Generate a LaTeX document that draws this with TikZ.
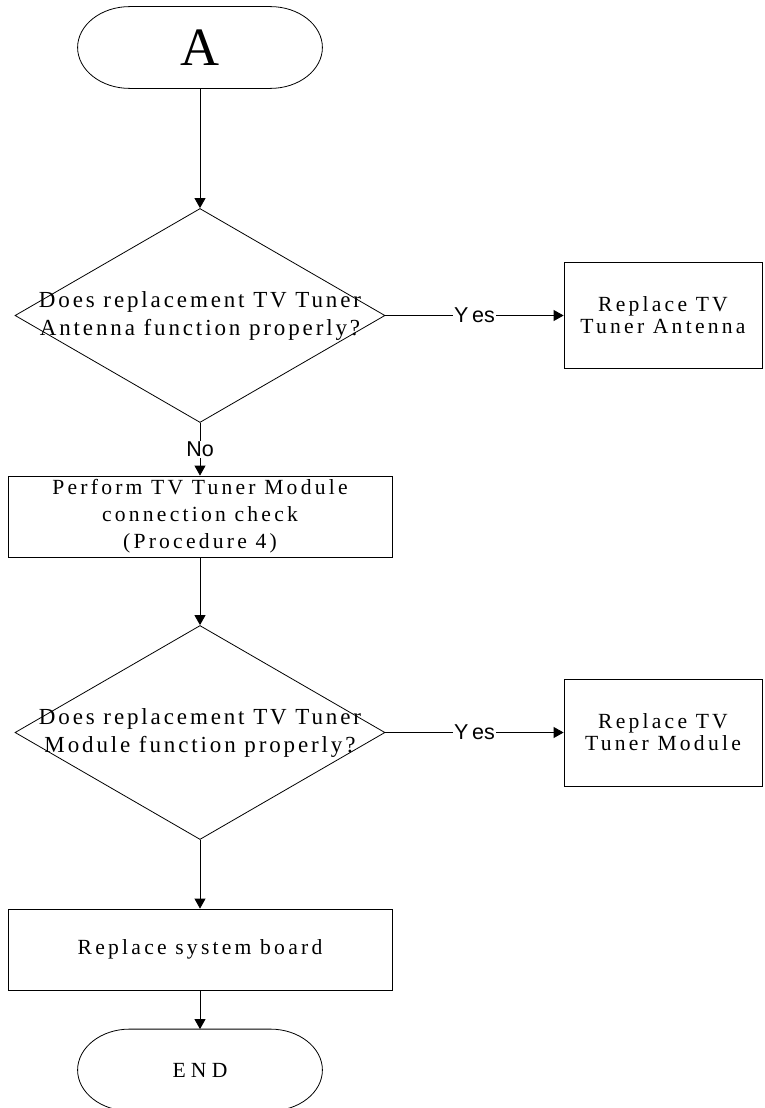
\documentclass[tikz,border=0pt]{standalone}
\usepackage{fontspec}
\setmainfont{Liberation Serif}
\newfontfamily\tracked[LetterSpace=12.5]{Liberation Serif}
\newfontfamily\trackedb[LetterSpace=15]{Liberation Serif}
\newfontfamily\trackedc[LetterSpace=24]{Liberation Serif}
\newfontfamily\sansf{Liberation Sans}
\usetikzlibrary{arrows.meta,shapes.geometric}
\newcommand\termpath[1]{%
  \draw ([xshift=52pt]#1.north west) -- ([xshift=-52pt]#1.north east)
    .. controls ([xshift=-23.3pt]#1.north east) and ([yshift=22.4pt]#1.east) .. (#1.east)
    .. controls ([yshift=-22.4pt]#1.east) and ([xshift=-23.3pt]#1.south east) .. ([xshift=-52pt]#1.south east)
    -- ([xshift=52pt]#1.south west)
    .. controls ([xshift=23.3pt]#1.south west) and ([yshift=-22.4pt]#1.west) .. (#1.west)
    .. controls ([yshift=22.4pt]#1.west) and ([xshift=23.3pt]#1.north west) .. ([xshift=52pt]#1.north west);}
\begin{document}
\begin{tikzpicture}[x=1pt,y=-1pt,line width=0.8pt,
  conn/.style={-{Triangle[length=10pt,width=11pt]}},
  term/.style={rectangle,inner sep=0pt,minimum width=244pt,minimum height=81pt},
  box/.style={draw,rectangle,inner sep=0pt,align=center,font=\trackedb\fontsize{21.6}{22}\selectfont},
  dia/.style={draw,diamond,inner sep=0pt,minimum width=370pt,minimum height=214pt},
  lbl/.style={fill=white,inner sep=1pt,font=\sansf\fontsize{21.5}{21.5}\selectfont}]
\useasboundingbox (0,0) rectangle (765,1108);
% start terminal
\node[term,font=\fontsize{54}{54}\selectfont] (A) at (200,47.5) {A};
\termpath{A}
% decision 1
\node[dia] (D1) at (200,315.5) {\makebox[0pt]{\tracked\fontsize{23}{28}\selectfont\begin{tabular}{@{}c@{}}Does replacement TV Tuner\\Antenna function properly?\end{tabular}}};
\node[box,minimum width=198pt,minimum height=106pt] (B1) at (663,315.5) {Replace TV\\Tuner Antenna};
% procedure box
\node[box,font=\trackedb\fontsize{21.6}{27}\selectfont,minimum width=384pt,minimum height=81pt] (P) at (200,516.5) {Perform TV Tuner Module\\connection check\\(Procedure 4)};
% decision 2
\node[dia] (D2) at (200,732.5) {\makebox[0pt]{\tracked\fontsize{23}{28}\selectfont\begin{tabular}{@{}c@{}}Does replacement TV Tuner\\Module function properly?\end{tabular}}};
\node[box,minimum width=198pt,minimum height=107pt] (B2) at (663,732.5) {Replace TV\\Tuner Module};
% system board
\node[box,minimum width=384pt,minimum height=81pt] (S) at (200,949.5) {Replace system board};
% end terminal
\node[term,font=\trackedc\fontsize{21.6}{22}\selectfont] (E) at (200,1070) {END};
\termpath{E}
% connectors
\draw[conn] (A) -- (D1);
\draw[conn] (D1) -- node[lbl]{Y\kern3.5pt es} (B1);
\draw[conn] (D1) -- node[lbl]{No} (P);
\draw[conn] (P) -- (D2);
\draw[conn] (D2) -- node[lbl]{Y\kern3.5pt es} (B2);
\draw[conn] (D2) -- (S);
\draw[conn] (S) -- (E);
\end{tikzpicture}
\end{document}
